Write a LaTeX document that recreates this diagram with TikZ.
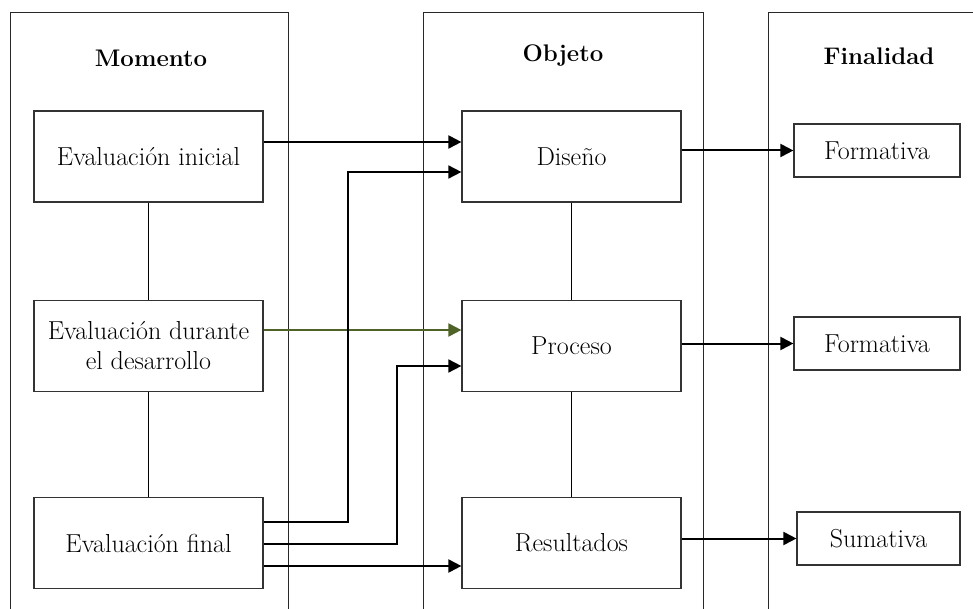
\documentclass[tikz,border=0pt]{standalone}
\usepackage{fontspec}
\usetikzlibrary{arrows.meta,calc}
\definecolor{olivegreen}{RGB}{79,98,40}
\definecolor{colgray}{RGB}{40,40,40}
\begin{document}
\begin{tikzpicture}[x=1pt,y=-1pt,
  colline/.style={draw=colgray,line width=0.9pt},
  box/.style={draw=black!80,line width=1.2pt,align=center,inner sep=0pt,
     font=\fontsize{26}{30}\selectfont},
  bigbox/.style={box,minimum width=229pt,minimum height=91pt},
  midbox/.style={box,minimum width=219pt,minimum height=91pt},
  smallbox/.style={box,minimum height=53pt},
  head/.style={font=\fontsize{24}{28}\selectfont\bfseries},
  link/.style={draw=black,line width=1.2pt},
  arr/.style={draw=black,line width=2pt,-{Triangle[length=13pt,width=13pt]}},
  arrthin/.style={draw=black,line width=1.7pt,-{Triangle[length=13pt,width=13pt]}}
]
\useasboundingbox (0,0) rectangle (973,609);
% columns
\draw[colline] (10,609) -- (10,12) -- (288,12) -- (288,609);
\draw[colline] (423,609) -- (423,12) -- (703,12) -- (703,609);
\draw[colline] (768,609) -- (768,12) -- (973,12);
% headings
\node[head] (hm) at (151,58) {Momento};
\node[head] (ho) at (563,56) {Objeto};
\node[head] (hf) at (879,56) {Finalidad};
% left boxes
\node[bigbox] (ini) at (148.5,156.5) {Evaluación inicial};
\node[bigbox] (dur) at (148.5,346) {Evaluación durante\\ el desarrollo};
\node[bigbox] (fin) at (148.5,543) {Evaluación final};
% middle boxes
\node[midbox] (dis) at (571.5,156.5) {Diseño};
\node[midbox] (pro) at (571.5,346) {Proceso};
\node[midbox] (res) at (571.5,543) {Resultados};
% right boxes
\node[smallbox,minimum width=166pt] (f1) at (877,150.5) {Formativa};
\node[smallbox,minimum width=166pt] (f2) at (877,343.5) {Formativa};
\node[smallbox,minimum width=163pt] (sum) at (878.5,538.5) {Sumativa};
% vertical links
\draw[link] (ini) -- (dur);
\draw[link] (dur) -- (fin);
\draw[link] (dis) -- (pro);
\draw[link] (pro) -- (res);
% arrows left -> middle
\draw[arr] (ini.east |- 0,142) -- (dis.west |- 0,142);
\draw[arr,draw=olivegreen,fill=olivegreen] (dur.east |- 0,330) -- (pro.west |- 0,330);
\draw[arr] (fin.east |- 0,566) -- (res.west |- 0,566);
\draw[arrthin] (fin.east |- 0,522) -- (348,522) -- (348,172) -- (dis.west |- 0,172);
\draw[arrthin] (fin.east |- 0,544) -- (397,544) -- (397,366) -- (pro.west |- 0,366);
% arrows middle -> right
\draw[arr] (dis.east |- f1.west) -- (f1.west);
\draw[arr] (pro.east |- f2.west) -- (f2.west);
\draw[arr] (res.east |- sum.west) -- (sum.west);
\end{tikzpicture}
\end{document}
